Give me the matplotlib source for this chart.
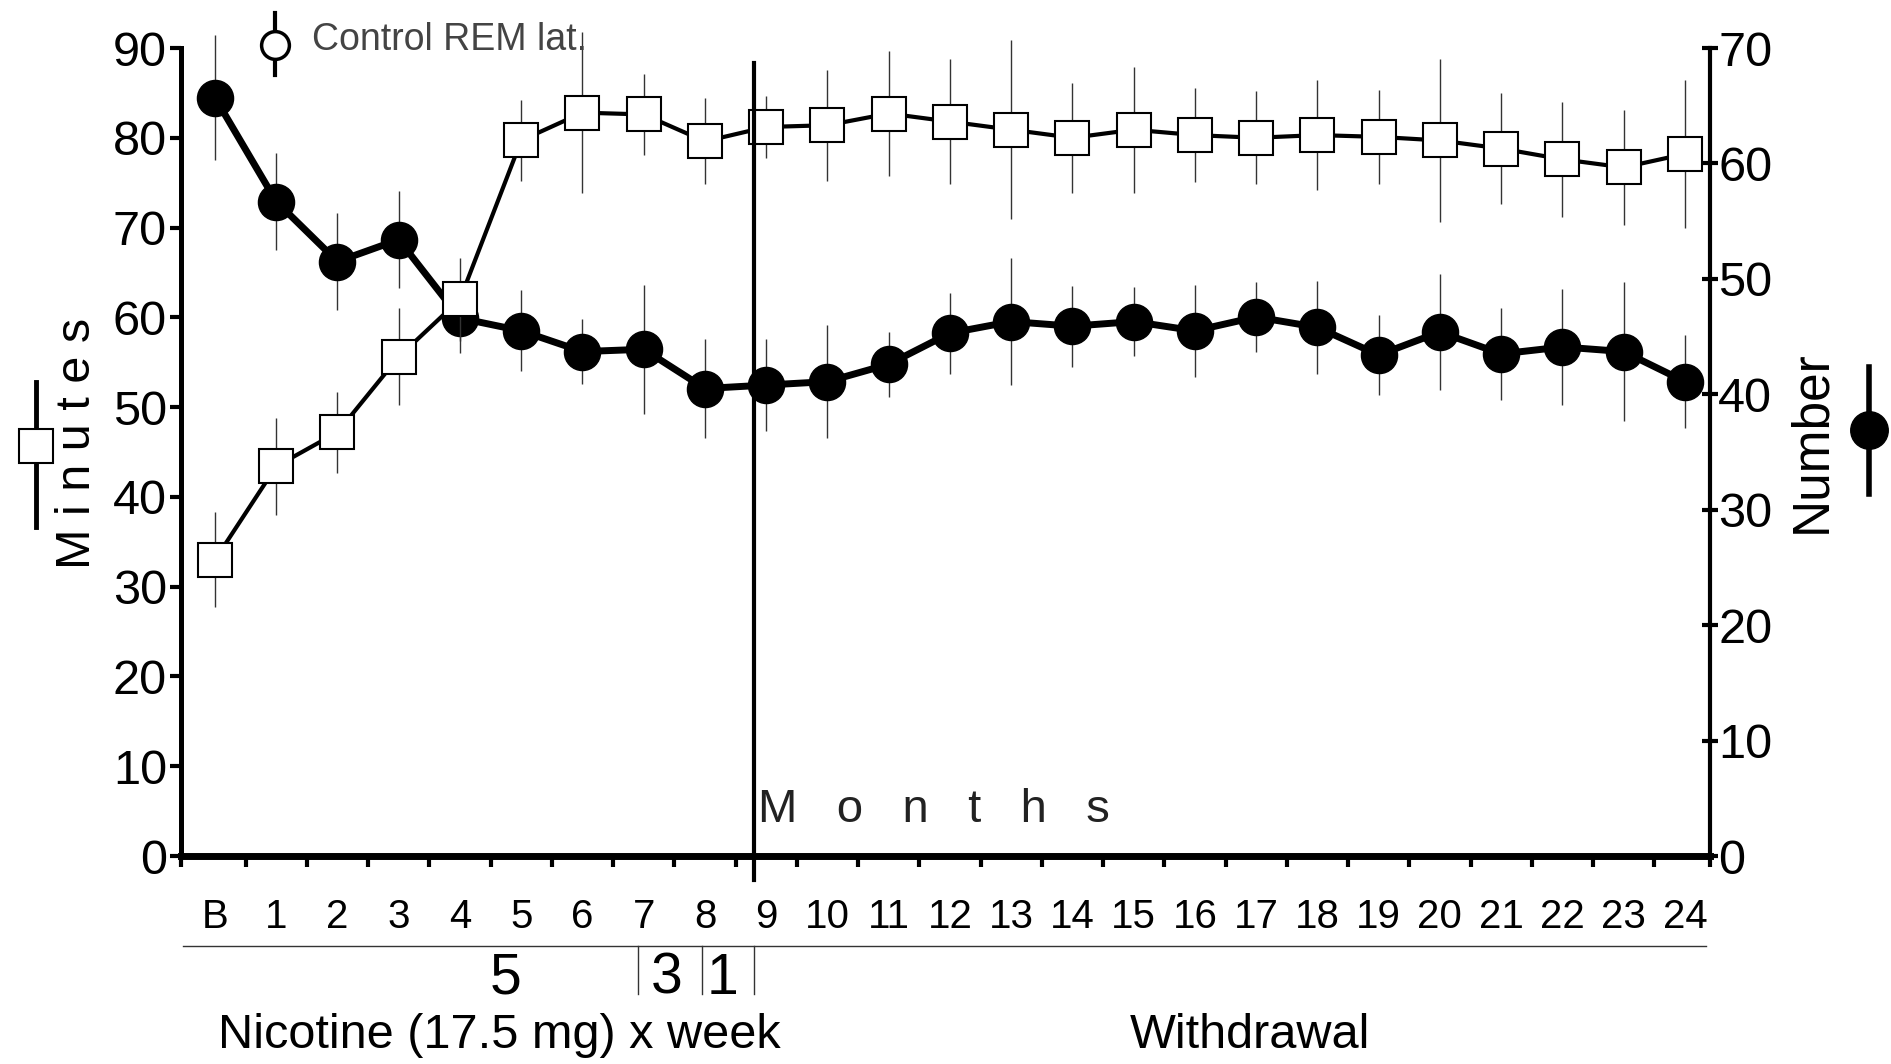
import numpy as np
import matplotlib
matplotlib.use("Agg")
import matplotlib.pyplot as plt
from matplotlib.lines import Line2D

plt.rcParams['font.family'] = ['Liberation Sans', 'DejaVu Sans']

# months: B = baseline, then 1..24
month_labels = ['B'] + [str(i) for i in range(1, 25)]
months = np.arange(len(month_labels))

# REM latency, minutes (left axis, open squares)
rem_lat = [33.0, 43.4, 47.2, 55.6, 62.0, 79.7, 82.8, 82.6, 79.6, 81.2, 81.4, 82.7, 81.8,
           80.9, 80.0, 80.9, 80.3, 80.0, 80.3, 80.1, 79.7, 78.8, 77.6, 76.7, 78.2]
rem_lat_err = [5.3, 5.4, 4.5, 5.4, 4.6, 4.5, 9.0, 4.5, 4.8, 3.5, 6.2, 7.0, 7.0,
               10.0, 6.1, 7.0, 5.2, 5.2, 6.1, 5.2, 9.1, 6.2, 6.4, 6.4, 8.2]

# number (right axis, filled circles)
number = [65.7, 56.7, 51.5, 53.4, 46.6, 45.5, 43.7, 43.9, 40.5, 40.8, 41.1, 42.6, 45.3,
          46.3, 45.9, 46.3, 45.5, 46.7, 45.8, 43.4, 45.4, 43.5, 44.1, 43.7, 41.1]
number_err = [5.4, 4.2, 4.2, 4.2, 3.0, 3.5, 2.8, 5.6, 4.3, 4.0, 4.9, 2.8, 3.5,
              5.5, 3.5, 3.0, 4.0, 3.0, 4.0, 3.5, 5.0, 4.0, 5.0, 6.0, 4.0]

# treatment schedule under the axis
dose_labels = ['5', '3', '1']
dose_centers = [4.75, 7.38, 8.28]
dose_breaks = [6.9, 7.95, 8.8]
withdrawal_start = 8.8

W, H = 1891, 1064
fig = plt.figure(figsize=(W / 100, H / 100), dpi=100)
ax = fig.add_axes([181 / W, 1 - 856 / H, (1710 - 181) / W, (856 - 48) / H])
ax2 = ax.twinx()

ax.set_xlim(-0.555, 24.41)
ax.set_ylim(0, 90)
ax2.set_ylim(0, 70)

# circles on the right axis
num = np.array(number)
nerr = np.array(number_err)
ax2.vlines(months, num - nerr, num + nerr, colors='#333333', lw=1.0, clip_on=False)
ax2.plot(months, num, '-o', color='black', lw=5, ms=26, clip_on=False)

# squares on the left axis (drawn on top)
lat = np.array(rem_lat)
lerr = np.array(rem_lat_err)
ax.vlines(months, lat - lerr, lat + lerr, colors='#333333', lw=1.0, clip_on=False)
ax.plot(months, lat, '-s', color='black', lw=3, ms=25, mfc='white', mec='black',
        mew=1.5, clip_on=False)
ax.set_zorder(2)
ax2.set_zorder(1)
ax.patch.set_visible(False)

# spines
for s in ['top', 'right']:
    ax.spines[s].set_visible(False)
ax.spines['left'].set_linewidth(3.6)
ax.spines['bottom'].set_linewidth(5)
for s in ['top', 'left', 'bottom']:
    ax2.spines[s].set_visible(False)
ax2.spines['right'].set_linewidth(3)

# x ticks: marks between months, labels on months
ax.set_xticks([-0.555] + list(np.arange(0.5, 24, 1)) + [24.41])
ax.set_xticklabels([])
ax.tick_params(axis='x', which='major', direction='out', length=8, width=3)
ax.set_xticks(months, labels=month_labels, minor=True)
ax.tick_params(axis='x', which='minor', length=0, pad=30, labelsize=29)

ax.set_yticks(np.arange(0, 91, 10))
ax.tick_params(axis='y', direction='out', length=8, width=3, labelsize=35, pad=2)
ax2.set_yticks(np.arange(0, 71, 10))
ax2.tick_params(axis='y', direction='inout', length=12, width=3, labelsize=35, pad=0)

# start of withdrawal
ax.axvline(withdrawal_start, ymin=-0.03, ymax=0.981, color='black', lw=3, clip_on=False)
ax.text(withdrawal_start + 0.07, 3.8, 'M   o   n   t   h   s', fontsize=34, va='baseline',
        color='#222222')

# schedule brackets below the axis
tr = ax.get_xaxis_transform()
ax.plot([-0.52, 24.34], [-0.111, -0.111], transform=tr, color='#333333', lw=1, clip_on=False)
for xb in dose_breaks:
    ax.plot([xb, xb], [-0.111, -0.171], transform=tr, color='#333333', lw=1, clip_on=False)
for lab, xc in zip(dose_labels, dose_centers):
    ax.text(xc, -0.152, lab, transform=tr, fontsize=41, ha='center', va='center')
ax.text(4.65, -0.222, 'Nicotine (17.5 mg) x week', transform=tr, fontsize=35,
        ha='center', va='center')
ax.text(16.9, -0.222, 'Withdrawal', transform=tr, fontsize=35, ha='center', va='center')

# axis titles with symbol keys
fig.text(78 / W, 1 - 443 / H, 'M i n u t e s', rotation=90, fontsize=35,
         ha='center', va='center')
fig.add_artist(Line2D([36 / W, 36 / W], [1 - 382 / H, 1 - 527 / H], color='black', lw=3.5))
fig.add_artist(Line2D([36 / W], [1 - 446 / H], marker='s', ms=24, mfc='white',
                      mec='black', mew=1.5))
fig.text(1812 / W, 1 - 442 / H, 'Number', rotation=90, fontsize=37,
         ha='center', va='center')
fig.add_artist(Line2D([1869 / W, 1869 / W], [1 - 367 / H, 1 - 494 / H], color='black', lw=4))
fig.add_artist(Line2D([1869 / W], [1 - 430 / H], marker='o', ms=27, color='black'))

# control key
fig.add_artist(Line2D([275 / W, 275 / W], [1 - 13 / H, 1 - 75 / H], color='black', lw=3))
fig.add_artist(Line2D([275 / W], [1 - 45 / H], marker='o', ms=20, mfc='white',
                      mec='black', mew=2.5))
fig.text(312 / W, 1 - 40 / H, 'Control REM lat.', fontsize=27, va='center', color='#444444')

fig.savefig('out.png', dpi=100, facecolor='white')
